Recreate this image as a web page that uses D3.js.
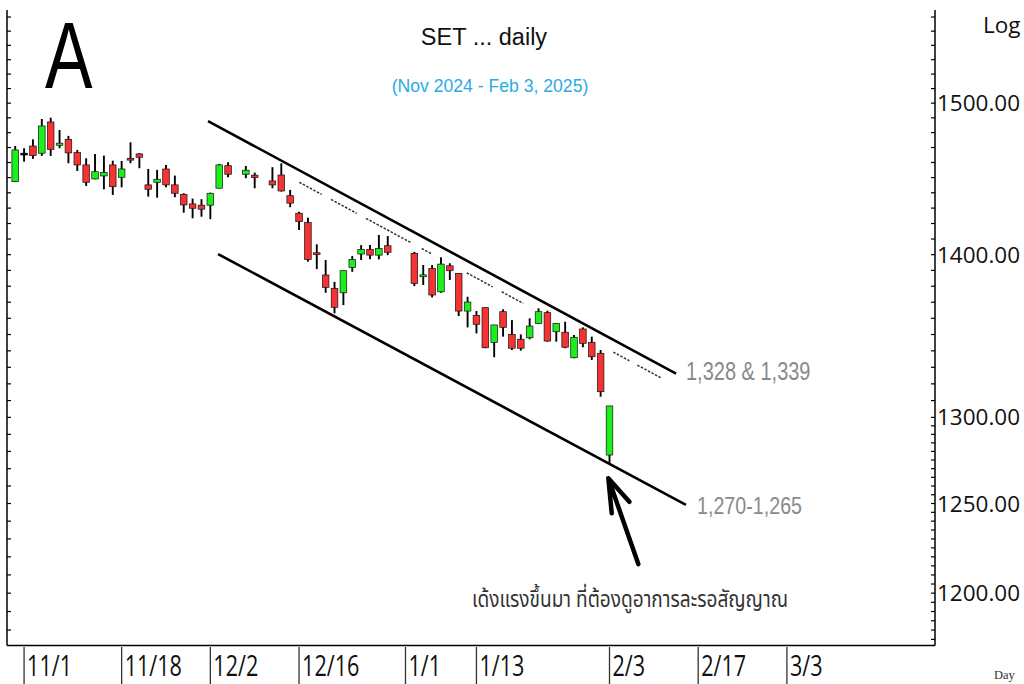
<!DOCTYPE html>
<html>
<head>
<meta charset="utf-8">
<script src="https://cdn.jsdelivr.net/npm/d3@7"></script>
<style>
  html, body { margin: 0; padding: 0; background: #fff; }
  svg { display: block; }
</style>
</head>
<body>
<svg id="chart"></svg>
<script>
// trading days (Dec 5, Dec 10, Dec 31, Jan 1 are holidays)
const dates = ["2024-10-31","2024-11-01","2024-11-04","2024-11-05","2024-11-06","2024-11-07","2024-11-08","2024-11-11","2024-11-12","2024-11-13",
  "2024-11-14","2024-11-15","2024-11-18","2024-11-19","2024-11-20","2024-11-21","2024-11-22","2024-11-25","2024-11-26","2024-11-27",
  "2024-11-28","2024-11-29","2024-12-02","2024-12-03","2024-12-04","2024-12-06","2024-12-09","2024-12-11","2024-12-12","2024-12-13",
  "2024-12-16","2024-12-17","2024-12-18","2024-12-19","2024-12-20","2024-12-23","2024-12-24","2024-12-25","2024-12-26","2024-12-27",
  "2024-12-30","2025-01-02","2025-01-03","2025-01-06","2025-01-07","2025-01-08","2025-01-09","2025-01-10","2025-01-13","2025-01-14",
  "2025-01-15","2025-01-16","2025-01-17","2025-01-20","2025-01-21","2025-01-22","2025-01-23","2025-01-24","2025-01-27","2025-01-28",
  "2025-01-29","2025-01-30","2025-01-31","2025-02-03"];
const open = [1447.3,1466.2,1471.0,1466.2,1487.2,1471.5,1475.5,1466.6,1458.4,1449.1,
  1451.1,1458.4,1450.2,1462.8,1465.7,1445.2,1446.9,1455.7,1445.2,1439.0,
  1432.7,1431.9,1431.9,1443.0,1457.9,1452.2,1451.6,1447.8,1451.7,1438.1,
  1426.7,1420.6,1401.2,1387.1,1378.7,1375.9,1391.9,1400.4,1403.4,1399.7,
  1405.7,1400.8,1386.0,1391.3,1376.5,1392.9,1388.1,1364.5,1361.8,1366.6,
  1345.2,1364.1,1350.1,1347.1,1348.0,1356.9,1363.5,1351.7,1351.4,1335.8,
  1353.4,1345.2,1338.5,1277.9];
const high = [1471.0,1469.5,1475.5,1489.2,1490.1,1481.8,1477.8,1468.4,1462.8,1465.7,
  1464.6,1461.2,1461.0,1473.5,1466.2,1455.7,1455.1,1458.4,1451.3,1439.7,
  1436.2,1435.8,1440.1,1459.0,1460.2,1457.7,1453.3,1456.9,1459.5,1441.9,
  1427.7,1423.8,1406.6,1396.6,1382.8,1389.8,1399.1,1406.1,1406.1,1412.6,
  1411.9,1401.8,1393.4,1393.4,1398.3,1394.5,1388.1,1373.4,1364.5,1366.6,
  1355.9,1365.6,1358.9,1350.1,1360.0,1366.2,1364.7,1356.9,1357.9,1349.7,
  1354.4,1348.7,1340.5,1306.8];
const low = [1447.1,1460.6,1462.4,1464.4,1464.4,1469.5,1459.5,1454.4,1444.5,1448.9,
  1442.3,1438.6,1443.6,1459.5,1456.2,1437.5,1436.8,1443.6,1437.1,1427.0,
  1423.4,1424.4,1422.8,1443.0,1450.2,1449.6,1443.0,1443.0,1440.8,1430.6,
  1415.8,1395.5,1390.8,1375.9,1363.1,1368.2,1389.1,1396.6,1397.0,1397.0,
  1399.7,1380.1,1380.8,1373.0,1375.9,1383.9,1361.4,1354.4,1350.7,1341.6,
  1336.1,1348.7,1340.5,1340.1,1347.1,1356.5,1345.6,1345.6,1341.6,1335.5,
  1342.2,1334.4,1312.3,1272.7];
const close = [1468.4,1466.2,1464.6,1484.5,1468.8,1472.9,1466.4,1458.4,1446.9,1453.9,
  1453.3,1444.0,1455.7,1461.7,1463.5,1442.3,1448.9,1445.2,1439.7,1432.1,
  1429.9,1429.3,1439.7,1458.4,1452.2,1454.9,1450.0,1445.2,1441.2,1433.2,
  1421.2,1397.0,1400.4,1379.3,1366.8,1389.8,1397.0,1403.4,1399.7,1404.0,
  1401.5,1381.8,1387.2,1374.5,1394.0,1389.8,1364.5,1370.1,1356.3,1341.9,
  1355.9,1354.4,1341.6,1341.6,1355.2,1364.1,1346.0,1356.9,1342.2,1348.3,
  1344.6,1336.4,1315.3,1306.8];

const xTickDates = ["2024-11-01","2024-11-18","2024-12-02","2024-12-16","2025-01-01","2025-01-13","2025-02-03","2025-02-17","2025-03-03"];
const xTickLabels = ["11/1","11/18","12/2","12/16","1/1","1/13","2/3","2/17","3/3"];
const yTickValues = [1500, 1400, 1300, 1250, 1200];

// channel lines: [weekday index, price]
const upperChannel = [[21.74, 1487.8], [74.5, 1326.2]];
const lowerChannel = [[22.87, 1400.4], [75.62, 1249.2]];
const dottedLine = [[32.03, 1446.9], [72.77, 1323.7]];
const dottedPieces = [[32.03,34.55],[35.6,38.5],[39.55,44.7],[45.83,46.96],[50.9,53.83],[54.85,57.28],[67.43,69.24],[70.14,72.77]];
const arrowTip = [66.87, 1264.4], arrowTail = [70.25, 1216.0];

const W = 1024, H = 684;
const svg = d3.select("#chart").attr("width", W).attr("height", H);

// weekday count since 2024-10-31
function dayIndex(s) {
  const base = Date.UTC(2024, 9, 31);
  const end = new Date(s + "T00:00:00Z").getTime();
  let n = 0;
  for (let t = base + 864e5; t <= end; t += 864e5) {
    const w = new Date(t).getUTCDay();
    if (w !== 0 && w !== 6) n++;
  }
  return n;
}

const x = d3.scaleLinear().domain([0, 87]).range([15.2, 786.9]);
const y = d3.scaleLog().domain([1172, 1565]).range([645, 10]);

const candles = dates.map((d, i) => ({ i: dayIndex(d), o: open[i], h: high[i], l: low[i], c: close[i] }));

// frame
const frame = svg.append("g").attr("stroke", "#000").attr("stroke-width", 1.5);
frame.append("line").attr("x1", 7).attr("x2", 7).attr("y1", 10).attr("y2", 645.5);
frame.append("line").attr("x1", 7).attr("x2", 935).attr("y1", 645.5).attr("y2", 645.5);
frame.append("line").attr("x1", 935).attr("x2", 935).attr("y1", 10).attr("y2", 645.5);

// minor ticks
const leftTicks = d3.range(1180, 1565, 10);
svg.append("g").selectAll("line").data(leftTicks).enter().append("line")
  .attr("x1", 7).attr("x2", 11).attr("y1", d => y(d)).attr("y2", d => y(d))
  .attr("stroke", "#000").attr("stroke-width", 1.2);
const rightTicks = d3.range(1175, 1300, 5).concat(d3.range(1300, 1565, 10));
svg.append("g").selectAll("line").data(rightTicks).enter().append("line")
  .attr("x1", 931).attr("x2", 935).attr("y1", d => y(d)).attr("y2", d => y(d))
  .attr("stroke", "#000").attr("stroke-width", 1.2);

// right price labels
svg.append("g").selectAll("text").data(yTickValues).enter().append("text")
  .attr("x", 937).attr("y", d => y(d)).attr("dy", "0.36em")
  .style("font-family", "'Open Sans', sans-serif").style("font-size", "22.5px").style("fill", "#111")
  .text(d => d3.format(".2f")(d));
svg.append("text").attr("x", 983).attr("y", 33)
  .style("font-family", "'Open Sans', sans-serif").style("font-size", "22.5px").style("fill", "#111")
  .text("Log");

// date separators and labels
const xt = svg.append("g");
xTickDates.forEach((d, k) => {
  const px = x(dayIndex(d));
  xt.append("line").attr("x1", px).attr("x2", px).attr("y1", 647).attr("y2", H)
    .attr("stroke", "#333").attr("stroke-width", 1.3);
  xt.append("text").attr("transform", `translate(${px + 3},676) scale(0.72,1)`)
    .style("font-family", "'Open Sans', sans-serif").style("font-size", "30px").style("fill", "#111")
    .text(xTickLabels[k]);
});
svg.append("text").attr("x", 994).attr("y", 679)
  .style("font-family", "'Liberation Serif', serif").style("font-size", "12.5px").style("fill", "#333")
  .text("Day");

// channel
const line = d3.line().x(d => x(d[0])).y(d => y(d[1]));
svg.append("path").attr("d", line(upperChannel)).attr("stroke", "#000").attr("stroke-width", 2.6).attr("fill", "none");
svg.append("path").attr("d", line(lowerChannel)).attr("stroke", "#000").attr("stroke-width", 2.6).attr("fill", "none");

// dotted resistance pieces along one line (log interpolation)
const dp = t => {
  const [a, b] = dottedLine;
  const f = (t - a[0]) / (b[0] - a[0]);
  return [t, Math.exp(Math.log(a[1]) + f * (Math.log(b[1]) - Math.log(a[1])))];
};
svg.append("g").selectAll("path").data(dottedPieces).enter().append("path")
  .attr("d", d => line([dp(d[0]), dp(d[1])]))
  .attr("stroke", "#333").attr("stroke-width", 1.5).attr("stroke-dasharray", "2.5 1.5").attr("fill", "none");

// candles
const cg = svg.append("g");
cg.selectAll(".wick").data(candles).enter().append("line")
  .attr("class", "wick")
  .attr("x1", d => x(d.i)).attr("x2", d => x(d.i))
  .attr("y1", d => y(d.h)).attr("y2", d => y(d.l))
  .attr("stroke", "#000").attr("stroke-width", 1.9);
cg.selectAll(".body").data(candles).enter().append("rect")
  .attr("class", "body")
  .attr("x", d => x(d.i) - 3.3).attr("width", 6.6)
  .attr("y", d => y(Math.max(d.o, d.c)))
  .attr("height", d => Math.max(1.8, Math.abs(y(d.o) - y(d.c))))
  .attr("fill", d => d.c > d.o ? "#1cf01c" : d.c < d.o ? "#f63333" : "#000")
  .attr("stroke", "#111").attr("stroke-width", 0.7);

// arrow
const tx = x(arrowTip[0]), ty = y(arrowTip[1]);
svg.append("path")
  .attr("d", `M${x(arrowTail[0])},${y(arrowTail[1])}L${tx},${ty}M${tx + 3.4},${ty + 35}L${tx},${ty}L${tx + 21},${ty + 23.5}`)
  .attr("stroke", "#000").attr("stroke-width", 4.5).attr("stroke-linecap", "round").attr("stroke-linejoin", "round")
  .attr("fill", "none");

// annotations
const gray = "#8a8a8a";
svg.append("text").attr("transform", "translate(686,379.5) scale(0.8,1)")
  .style("font-family", "'Liberation Sans', Arial, sans-serif").style("font-size", "25px").style("fill", gray)
  .text("1,328 & 1,339");
svg.append("text").attr("transform", "translate(697,513.5) scale(0.82,1)")
  .style("font-family", "'Liberation Sans', Arial, sans-serif").style("font-size", "24px").style("fill", gray)
  .text("1,270-1,265");
svg.append("text").attr("x", 472).attr("y", 607)
  .attr("textLength", 316).attr("lengthAdjust", "spacingAndGlyphs")
  .style("font-family", "'Noto Sans Thai', 'Noto Sans', 'DejaVu Sans', sans-serif").style("font-size", "23px").style("fill", "#333")
  .text("เด้งแรงขึ้นมา ที่ต้องดูอาการละรอสัญญาณ");

// titles
svg.append("text").attr("x", 484).attr("y", 44.5).attr("text-anchor", "middle")
  .style("font-family", "'Liberation Sans', Arial, sans-serif").style("font-size", "23.5px").style("fill", "#111")
  .text("SET ... daily");
svg.append("text").attr("x", 490).attr("y", 91.5).attr("text-anchor", "middle")
  .style("font-family", "'Liberation Sans', Arial, sans-serif").style("font-size", "17.6px").style("fill", "#29abe2")
  .text("(Nov 2024 - Feb 3, 2025)");
svg.append("text").attr("transform", "translate(45,88) scale(0.75,1)")
  .style("font-family", "'Liberation Sans', Arial, sans-serif").style("font-size", "95px").style("fill", "#000")
  .text("A");
</script>
</body>
</html>
